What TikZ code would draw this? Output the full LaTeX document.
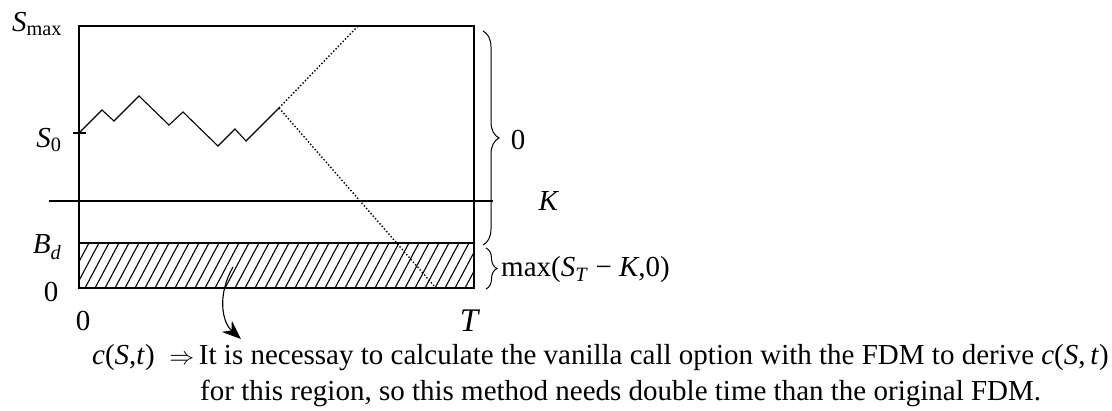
\documentclass[tikz,border=0pt]{standalone}
\usepackage{fontspec}
\setmainfont{Liberation Serif}
\usetikzlibrary{decorations.pathreplacing,arrows.meta}
\begin{document}
\begin{tikzpicture}[x=1pt,y=-1pt,
  frame/.style={line width=1.3pt},
  path/.style={line width=1.1pt},
  dots/.style={dotted,line width=1.4pt},
  hatch/.style={line width=1.1pt},
  brc/.style={decorate,decoration={brace,amplitude=16pt},line width=1pt},
  lbl/.style={inner sep=0pt,font=\fontsize{29}{33}\selectfont},
  body/.style={inner sep=0pt,anchor=base west,font=\fontsize{29}{33}\selectfont}]
\useasboundingbox (0,0) rectangle (1112,410);
% frame
\coordinate (tl) at (79,26);
\coordinate (br) at (474,288);
\coordinate (bdl) at (79,243);
\coordinate (bdr) at (474,243);
\begin{scope}
  \clip (79,243) rectangle (474,288);
  \foreach \i in {0,...,45} \draw[hatch] ({54+\i*10},290) -- ++(26,-49);
\end{scope}
\draw[frame] (tl) rectangle (br);
\draw[frame] (bdl) -- (bdr);
\coordinate (kl) at (49,201);
\coordinate (kr) at (493,201);
\draw[frame] (kl) -- (kr);
% path
\coordinate (s0) at (79,133);
\coordinate (pe) at (279,108);
\draw[path] (s0) -- (102,110) -- (114,121) -- (139,96) -- (169,125) -- (183,112) -- (218,146) -- (235,129) -- (246,141) -- (pe);
\coordinate (tickl) at (73,133);
\coordinate (tickr) at (86,133);
\draw[path] (tickl) -- (tickr);
\coordinate (up) at (358,26);
\coordinate (dn) at (435,287);
\draw[dots] (pe) -- (up);
\draw[dots] (pe) -- (dn);
% braces
\coordinate (b1a) at (483,31);
\coordinate (b1b) at (483,245);
\coordinate (b2a) at (486,248);
\coordinate (b2b) at (486,289);
\draw[brc] (b1a) -- (b1b);
\draw[brc,decoration={amplitude=11pt}] (b2a) -- (b2b);
% labels
\node[lbl] (smax) at (37,24) {\textit{S}\textsubscript{max}};
\node[lbl] (slab) at (49,140) {\textit{S}\textsubscript{0}};
\node[lbl] (bd) at (47,247) {\textit{B}\textsubscript{\textit{d}}};
\node[lbl] (zl) at (51,292) {0};
\node[lbl] (zb) at (83,321) {0};
\node[lbl,font=\fontsize{33}{36}\selectfont] (tT) at (470,321) {\textit{T}};
\node[lbl] (kk) at (549,201) {\textit{K}};
\node[lbl] (zz) at (518,140) {0};
\node[lbl,anchor=west] (mx) at (501,270) {max(\textit{S}\textsubscript{\textit{T}} − \textit{K},0)};
% text
\node[body] (l1) at (92,364) {\textit{c}(\textit{S},\textit{t})\ \ $\Rightarrow$\,It is necessay to calculate the vanilla call option with the FDM to derive \textit{c}(\textit{S},\,\textit{t})};
\node[body] (l2) at (200,400) {for this region, so this method needs double time than the original FDM.};
% arrow
\coordinate (as) at (233,267);
\coordinate (ae) at (241,339);
\draw[path,-{Stealth[length=19pt,width=15pt]}] (as) .. controls (217,295) and (222,322) .. (ae);
\end{tikzpicture}
\end{document}
